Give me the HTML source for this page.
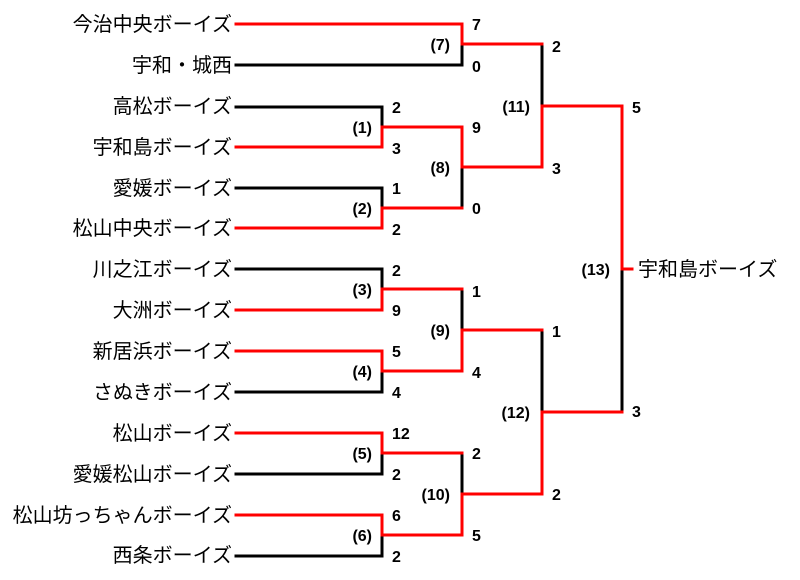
<!DOCTYPE html>
<html><head><meta charset="utf-8"><style>
html,body{margin:0;padding:0;background:#fff;}
svg{display:block;}
.t{font-family:"Liberation Sans","Noto Sans CJK JP",sans-serif;font-size:20px;fill:#000;}
.s{font-family:"Liberation Sans",sans-serif;font-size:16px;font-weight:bold;fill:#000;}
</style></head><body>
<svg width="800" height="580" xmlns="http://www.w3.org/2000/svg">
<g fill="none" stroke-width="3" stroke-linecap="square">
<g stroke="#000">
<path d="M236 65H462V44"/>
<path d="M236 107H382V127"/>
<path d="M236 188H382V208"/>
<path d="M236 269H382V289"/>
<path d="M236 392H382V371"/>
<path d="M236 474H382V453"/>
<path d="M236 556H382V535"/>
<path d="M462 208V167"/>
<path d="M462 289V330"/>
<path d="M462 453V494"/>
<path d="M542 44V106"/>
<path d="M542 330V412"/>
<path d="M622 269V412"/>
</g>
<g stroke="#f00">
<path d="M236 24H462V44H542"/>
<path d="M236 147H382V127H462V167H542V106H622V269H632"/>
<path d="M236 228H382V208H462"/>
<path d="M236 310H382V289H462"/>
<path d="M236 351H382V371H462V330H542"/>
<path d="M236 433H382V453H462"/>
<path d="M236 515H382V535H462V494H542V412H622"/>
</g>
</g>
<g class="t" text-anchor="end">
<text x="232" y="31">今治中央ボーイズ</text>
<text x="232" y="72">宇和・城西</text>
<text x="232" y="113">高松ボーイズ</text>
<text x="232" y="154">宇和島ボーイズ</text>
<text x="232" y="195">愛媛ボーイズ</text>
<text x="232" y="235">松山中央ボーイズ</text>
<text x="232" y="276">川之江ボーイズ</text>
<text x="232" y="317">大洲ボーイズ</text>
<text x="232" y="358">新居浜ボーイズ</text>
<text x="232" y="399">さぬきボーイズ</text>
<text x="232" y="440">松山ボーイズ</text>
<text x="232" y="481">愛媛松山ボーイズ</text>
<text x="232" y="522">松山坊っちゃんボーイズ</text>
<text x="232" y="562">西条ボーイズ</text>
</g>
<text class="t" x="638" y="276">宇和島ボーイズ</text>
<g class="s">
<text x="392" y="113">2</text><text x="392" y="154">3</text>
<text x="392" y="194">1</text><text x="392" y="235">2</text>
<text x="392" y="276">2</text><text x="392" y="316">9</text>
<text x="392" y="357">5</text><text x="392" y="398">4</text>
<text x="392" y="439">12</text><text x="392" y="480">2</text>
<text x="392" y="521">6</text><text x="392" y="562">2</text>
<text x="472" y="30">7</text><text x="472" y="72">0</text>
<text x="472" y="133">9</text><text x="472" y="214">0</text>
<text x="472" y="297">1</text><text x="472" y="378">4</text>
<text x="472" y="459">2</text><text x="472" y="541">5</text>
<text x="552" y="52">2</text><text x="552" y="174">3</text>
<text x="552" y="337">1</text><text x="552" y="500">2</text>
<text x="632" y="113">5</text><text x="632" y="417">3</text>
</g>
<g class="s" text-anchor="end">
<text x="372" y="133">(1)</text>
<text x="372" y="214">(2)</text>
<text x="372" y="295">(3)</text>
<text x="372" y="377">(4)</text>
<text x="372" y="459">(5)</text>
<text x="372" y="541">(6)</text>
<text x="450" y="50">(7)</text>
<text x="450" y="173">(8)</text>
<text x="450" y="336">(9)</text>
<text x="450" y="500">(10)</text>
<text x="530" y="112">(11)</text>
<text x="530" y="418">(12)</text>
<text x="610" y="275">(13)</text>
</g>
</svg>
</body></html>
